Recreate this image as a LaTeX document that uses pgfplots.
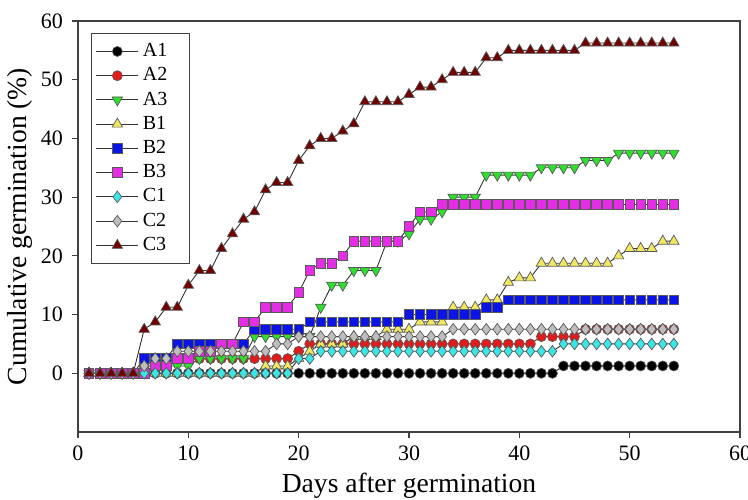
\documentclass[border=0pt]{standalone}
\usepackage{fontspec}
\setmainfont{Liberation Serif}
\usepackage{pgfplots}
\pgfplotsset{compat=1.18}
\usepackage{pgfplotstable}
\definecolor{cA2}{HTML}{E41A1A}
\definecolor{cA3}{HTML}{2EE02E}
\definecolor{cB1}{HTML}{F0E860}
\definecolor{cB2}{HTML}{0A14E6}
\definecolor{cB3}{HTML}{E62DE6}
\definecolor{cC1}{HTML}{3AE6E6}
\definecolor{cC2}{HTML}{BEBEBE}
\definecolor{cC3}{HTML}{700000}
\pgfplotstableread{
d A1 A2 A3 B1 B2 B3 C1 C2 C3
1 0 0 0 0 0 0 0 0 0
2 0 0 0 0 0 0 0 0 0
3 0 0 0 0 0 0 0 0 0
4 0 0 0 0 0 0 0 0 0
5 0 0 0 0 0 0 0 0 0
6 0 1.25 1.25 0 2.5 0 0 1.25 7.5
7 0 2.5 1.25 0 2.5 1.25 0 2.5 8.75
8 0 2.5 1.25 0 2.5 1.25 0 2.5 11.25
9 0 2.5 1.25 0 5 2.5 0 3.75 11.25
10 0 2.5 1.25 0 5 2.5 0 3.75 15
11 0 2.5 2.5 0 5 3.75 0 3.75 17.5
12 0 2.5 2.5 0 5 3.75 0 3.75 17.5
13 0 2.5 2.5 0 5 5 0 3.75 21.25
14 0 2.5 2.5 0 5 5 0 3.75 23.75
15 0 2.5 2.5 0 5 8.75 0 3.75 26.25
16 0 2.5 6.25 0 7.5 8.75 0 3.75 27.5
17 0 2.5 6.25 1.25 7.5 11.25 0 3.75 31.25
18 0 2.5 6.25 1.25 7.5 11.25 0 5 32.5
19 0 2.5 6.25 1.25 7.5 11.25 0 5 32.5
20 0 3.75 6.25 2.5 7.5 13.75 2.5 6.25 36.25
21 0 5 6.25 3.75 8.75 17.5 2.5 6.25 38.75
22 0 5 11.25 5 8.75 18.75 3.75 6.25 40
23 0 5 15 5 8.75 18.75 3.75 6.25 40
24 0 5 15 5 8.75 20 3.75 6.25 41.25
25 0 5 17.5 6.25 8.75 22.5 3.75 6.25 42.5
26 0 5 17.5 6.25 8.75 22.5 3.75 6.25 46.25
27 0 5 17.5 6.25 8.75 22.5 3.75 6.25 46.25
28 0 5 22.5 7.5 8.75 22.5 3.75 6.25 46.25
29 0 5 22.5 7.5 8.75 22.5 3.75 6.25 46.25
30 0 5 23.75 7.5 10 25 3.75 6.25 47.5
31 0 5 26.25 8.75 10 27.5 3.75 6.25 48.75
32 0 5 26.25 8.75 10 27.5 3.75 6.25 48.75
33 0 5 27.5 8.75 10 28.75 3.75 6.25 50
34 0 5 30 11.25 10 28.75 3.75 7.5 51.25
35 0 5 30 11.25 10 28.75 3.75 7.5 51.25
36 0 5 30 11.25 10 28.75 3.75 7.5 51.25
37 0 5 33.75 12.5 11.25 28.75 3.75 7.5 53.75
38 0 5 33.75 12.5 11.25 28.75 3.75 7.5 53.75
39 0 5 33.75 15.5 12.5 28.75 3.75 7.5 55
40 0 5 33.75 16.25 12.5 28.75 3.75 7.5 55
41 0 5 33.75 16.25 12.5 28.75 3.75 7.5 55
42 0 6.25 35 18.75 12.5 28.75 3.75 7.5 55
43 0 6.25 35 18.75 12.5 28.75 3.75 7.5 55
44 1.25 6.25 35 18.75 12.5 28.75 5 7.5 55
45 1.25 6.25 35 18.75 12.5 28.75 5 7.5 55
46 1.25 7.5 36.25 18.75 12.5 28.75 5 7.5 56.25
47 1.25 7.5 36.25 18.75 12.5 28.75 5 7.5 56.25
48 1.25 7.5 36.25 18.75 12.5 28.75 5 7.5 56.25
49 1.25 7.5 37.5 20 12.5 28.75 5 7.5 56.25
50 1.25 7.5 37.5 21.25 12.5 28.75 5 7.5 56.25
51 1.25 7.5 37.5 21.25 12.5 28.75 5 7.5 56.25
52 1.25 7.5 37.5 21.25 12.5 28.75 5 7.5 56.25
53 1.25 7.5 37.5 22.5 12.5 28.75 5 7.5 56.25
54 1.25 7.5 37.5 22.5 12.5 28.75 5 7.5 56.25
}\germ
\begin{document}
\begin{tikzpicture}
\useasboundingbox (-39pt,-33.5pt) rectangle (335pt,216pt);
\begin{axis}[
  at={(0,0)}, anchor=south west,
  scale only axis, width=331pt, height=205.5pt,
  xmin=0, xmax=60, ymin=-10, ymax=60,
  xtick={0,10,...,60}, ytick={0,10,...,60},
  tick align=outside, major tick length=3pt,
  xtick pos=bottom, ytick pos=left,
  axis line style={black!75, line width=0.6pt},
  every tick/.style={black!75, line width=0.6pt},
  tick label style={font=\fontsize{11}{13}\selectfont},
  /pgf/number format/assume math mode=true,
  xticklabel style={yshift=-0.5pt},
  yticklabel style={xshift=-1pt},
  xlabel={Days after germination},
  ylabel={Cumulative germination (\%)},
  label style={font=\fontsize{13.8}{16}\selectfont},
  xlabel style={at={(axis description cs:0.5,0)}, anchor=base, yshift=-30pt},
  ylabel style={at={(axis description cs:-0.0876,0.5)}, anchor=center},
  legend style={at={(axis cs:1.2,58)}, anchor=north west, draw=black!75, line width=0.6pt,
     font=\fontsize{10}{12}\selectfont, row sep=0pt, inner xsep=2pt, inner ysep=3pt},
  legend cell align=left,
  legend image code/.code={\draw[mark repeat=2,mark phase=2] plot coordinates {(0cm,0cm) (0.37cm,0cm) (0.74cm,0cm)};},
]
\addplot[color=black!80, line width=0.45pt, mark=*, mark size=2.5pt, mark options={fill=black, draw=black!65, line width=0.35pt}] table[x=d,y=A1]{\germ};
\addplot[color=black!80, line width=0.45pt, mark=*, mark size=2.5pt, mark options={fill=cA2, draw=black!65, line width=0.35pt}] table[x=d,y=A2]{\germ};
\addplot[color=black!80, line width=0.45pt, mark=triangle*, mark size=3pt, mark options={fill=cA3, draw=black!65, line width=0.35pt, rotate=180}] table[x=d,y=A3]{\germ};
\addplot[color=black!80, line width=0.45pt, mark=triangle*, mark size=3pt, mark options={fill=cB1, draw=black!65, line width=0.35pt}] table[x=d,y=B1]{\germ};
\addplot[color=black!80, line width=0.45pt, mark=square*, mark size=2.4pt, mark options={fill=cB2, draw=black!65, line width=0.35pt}] table[x=d,y=B2]{\germ};
\addplot[color=black!80, line width=0.45pt, mark=square*, mark size=2.4pt, mark options={fill=cB3, draw=black!65, line width=0.35pt}] table[x=d,y=B3]{\germ};
\addplot[color=black!80, line width=0.45pt, mark=diamond*, mark size=2.9pt, mark options={fill=cC1, draw=black!65, line width=0.35pt}] table[x=d,y=C1]{\germ};
\addplot[color=black!80, line width=0.45pt, mark=diamond*, mark size=2.9pt, mark options={fill=cC2, draw=black!65, line width=0.35pt}] table[x=d,y=C2]{\germ};
\addplot[color=black!80, line width=0.45pt, mark=triangle*, mark size=3pt, mark options={fill=cC3, draw=black!65, line width=0.35pt}] table[x=d,y=C3]{\germ};
\legend{A1\hspace*{7pt},A2\hspace*{7pt},A3\hspace*{7pt},B1\hspace*{7pt},B2\hspace*{7pt},B3\hspace*{7pt},C1\hspace*{7pt},C2\hspace*{7pt},C3\hspace*{7pt}}
\end{axis}
\end{tikzpicture}
\end{document}
